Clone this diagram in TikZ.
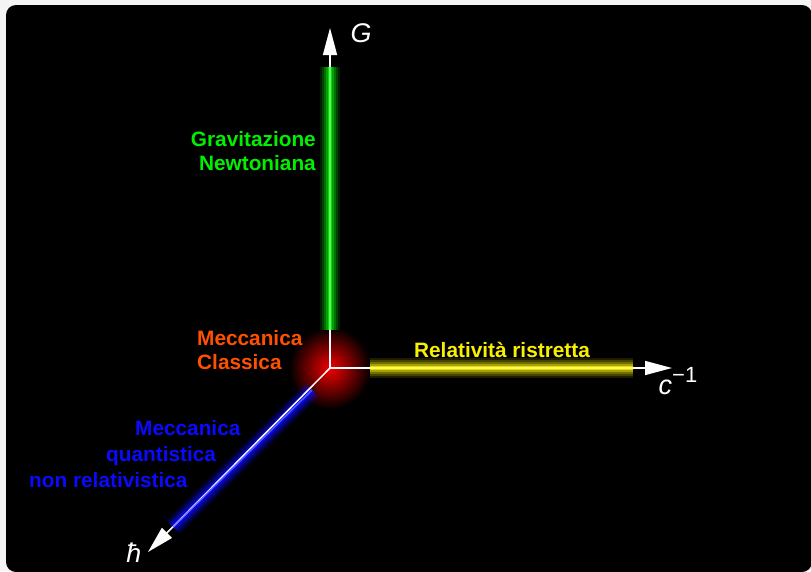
\documentclass[tikz,border=0pt]{standalone}
\usepackage{fontspec}
\setmainfont{Liberation Sans}
\usetikzlibrary{arrows.meta}

\definecolor{pagegrey}{HTML}{F4F4F4}
\definecolor{newtongreen}{HTML}{00F000}
\definecolor{classorange}{HTML}{FF5000}
\definecolor{relyellow}{HTML}{F8F000}
\definecolor{quantblue}{HTML}{0A0AFF}

% soft glowing bar between two named points
\newcommand\glowbar[3]{%
  \foreach \w/\o in {20/0.12,16/0.18,12/0.25,8/0.4,4/0.75}
    \draw[#1, line width=\w pt, opacity=\o] (#2) -- (#3);
}

\begin{document}
\begin{tikzpicture}[x=1pt, y=-1pt,
  every node/.style={inner sep=0pt},
  lbl/.style={font=\bfseries\fontsize{20.8}{24}\selectfont},
  axislbl/.style={white, font=\itshape\fontsize{27}{32}\selectfont},
  axis/.style={white, line width=1.5pt, -{Triangle[length=27pt,width=14pt]}}]
\useasboundingbox (0,0) rectangle (811,571);
\fill[pagegrey] (0,0) rectangle (811,571);
\fill[black, rounded corners=10pt] (6,5) rectangle (812,572);

\coordinate (O) at (330,368);
\coordinate (tipG) at (330,28);
\coordinate (tipC) at (672,368);
\coordinate (tipH) at (148,552);

% red glow at the origin
\shade[inner color=red!95!black, outer color=black] (O) circle (41);

% glowing bars
\coordinate (g1) at (330,67);  \coordinate (g2) at (330,330);
\coordinate (y1) at (370,368); \coordinate (y2) at (633,368);
\coordinate (b1) at (312,390); \coordinate (b2) at (173,527);
\glowbar{newtongreen}{g1}{g2}
\glowbar{relyellow}{y1}{y2}
\glowbar{quantblue}{b1}{b2}

% axes
\draw[axis] (O) -- (tipG);
\draw[axis] (O) -- (tipC);
\draw[axis] (O) -- (tipH);
\draw[newtongreen!65!white, line width=1.6pt, opacity=0.85] (g1) -- (g2);
\draw[relyellow!65!white, line width=1.6pt, opacity=0.85] (y1) -- (y2);
\draw[quantblue!65!white, line width=1.6pt, opacity=0.85] (b1) -- (b2);

\node[axislbl, anchor=base] (labG) at (361,42) {G};
\node[axislbl, anchor=base] (labC) at (678,394) {c\raisebox{0.42em}{\upshape\fontsize{22}{26}\selectfont −1}};
\node[axislbl, anchor=base] (labH) at (134,562) {ħ};

\node[lbl, newtongreen, align=right, anchor=north east] (newton) at (316,131.5) {Gravitazione\\Newtoniana};
\node[lbl, classorange, align=left, anchor=north west] (classic) at (197,330.5) {Meccanica\\Classica};
\node[lbl, relyellow, anchor=base] (special) at (502,357) {Relatività ristretta};
\node[lbl, quantblue, anchor=base west] (quant1) at (135,435) {Meccanica};
\node[lbl, quantblue, anchor=base west] (quant2) at (106,461) {quantistica};
\node[lbl, quantblue, anchor=base west] (quant3) at (29,487) {non relativistica};
\end{tikzpicture}
\end{document}
